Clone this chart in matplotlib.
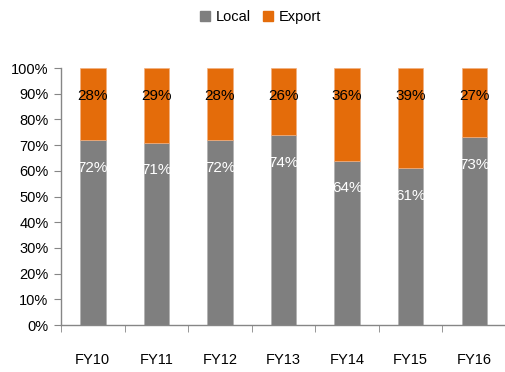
import matplotlib
matplotlib.use("Agg")
import matplotlib.pyplot as plt
from matplotlib.ticker import FixedLocator, PercentFormatter
from matplotlib.patches import Patch

plt.rcParams['font.family'] = ['Liberation Sans Narrow', 'Liberation Sans', 'DejaVu Sans']

categories = ["FY10", "FY11", "FY12", "FY13", "FY14", "FY15", "FY16"]
local = [72, 71, 72, 74, 64, 61, 73]
export = [28, 29, 28, 26, 36, 39, 27]

grey = "#7f7f7f"
orange = "#e46c0a"
axis_col = "#868686"

fig = plt.figure(figsize=(5.06, 3.72), dpi=100)
ax = fig.add_axes([0.1206, 0.1263, 0.8794, 0.6909])

x = list(range(len(categories)))
ax.bar(x, local, width=0.4, color=grey, edgecolor="#b0b0b0", linewidth=0.5, label="Local")
ax.bar(x, export, width=0.4, bottom=local, color=orange, edgecolor="#f2b080", linewidth=0.5, label="Export")

for xi, l, e in zip(x, local, export):
    ax.annotate(f"{l}%", (xi, l), xytext=(0, -20), textcoords="offset points",
                ha="center", va="center", color="white", fontsize=11)
    ax.annotate(f"{e}%", (xi, l + e), xytext=(0, -20), textcoords="offset points",
                ha="center", va="center", color="black", fontsize=11)

ax.set_xlim(-0.5, len(categories) - 0.5)
ax.set_ylim(0, 100)
ax.yaxis.set_major_locator(FixedLocator(range(0, 101, 10)))
ax.yaxis.set_major_formatter(PercentFormatter(decimals=0))
ax.set_xticks(x)
ax.set_xticklabels(categories)
ax.xaxis.set_minor_locator(FixedLocator([i - 0.5 for i in range(len(categories) + 1)]))
ax.tick_params(axis='x', which='major', length=0, pad=20, labelsize=10.5)
ax.tick_params(axis='x', which='minor', length=5, color=axis_col, direction='out')
ax.tick_params(axis='y', length=5, color=axis_col, direction='out', pad=4, labelsize=10.5)

for s in ["top", "right"]:
    ax.spines[s].set_visible(False)
for s in ["left", "bottom"]:
    ax.spines[s].set_color(axis_col)
    ax.spines[s].set_linewidth(1.0)

handles = [Patch(color=grey, label="Local"), Patch(color=orange, label="Export")]
fig.legend(handles=handles, loc="center", bbox_to_anchor=(0.515, 0.953), ncol=2, frameon=False,
           fontsize=10.5, handlelength=0.7, handleheight=0.7, handletextpad=0.4, columnspacing=0.8)

fig.savefig("out.png", dpi=100)
